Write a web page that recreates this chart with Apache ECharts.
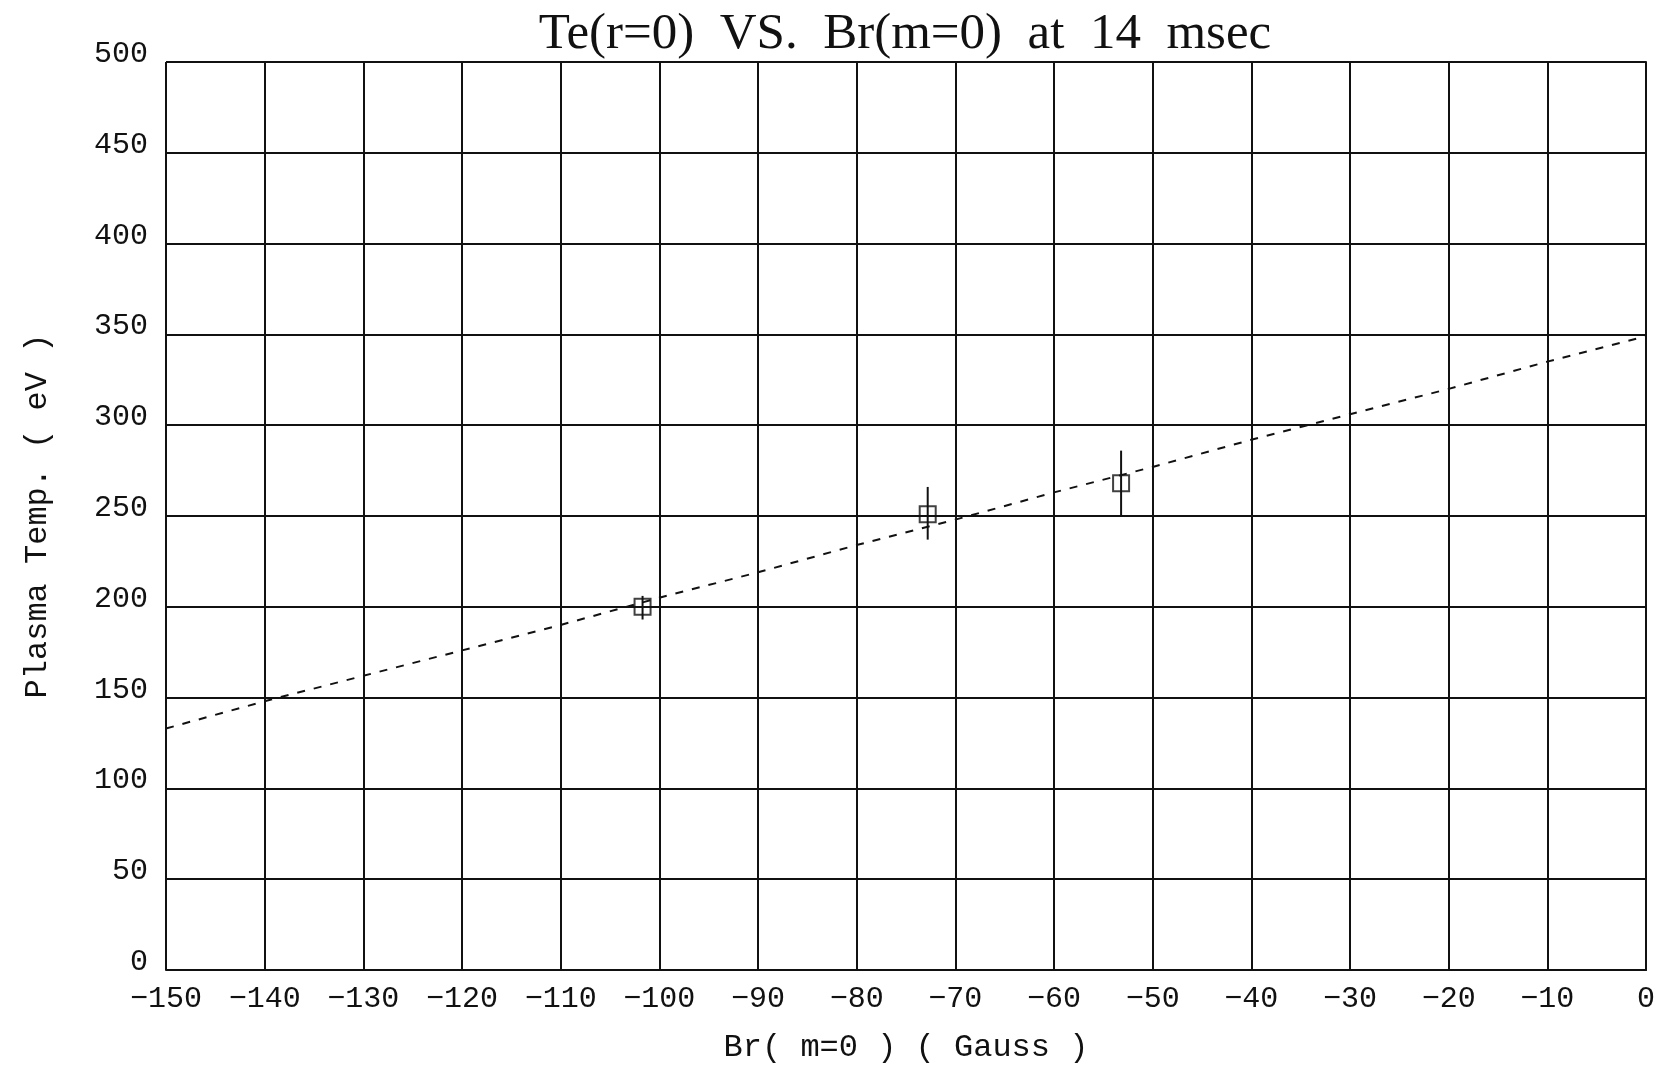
<!DOCTYPE html>
<html><head><meta charset="utf-8">
<script src="https://cdn.jsdelivr.net/npm/echarts@6/dist/echarts.min.js"></script>
<style>html,body{margin:0;padding:0;background:#fff}#c{width:1662px;height:1070px}</style>
</head><body><div id="c"></div>
<script>
// Fit line (dashed)
const fitBr = [-150,-140,-130,-120,-110,-100,-90,-80,-70,-60,-50,-40,-30,-20,-10,0];
const fitTe = [133,148,162,176,190,205,219,234,248,263,277,292,306,320,335,349];
// Measured points with error bars
const ptBr = [-101.7,-72.8,-53.2];
const ptTe = [200,251,268];
const ptErrLo = [193,237,250];
const ptErrHi = [206,266,286];

const chart = echarts.init(document.getElementById('c'));
const font = 'Liberation Mono';
const fmt = v => String(v).replace('-', '\u2212');
chart.setOption({
  backgroundColor:'#fff',
  animation:false,
  title:{text:'Te(r=0)  VS.  Br(m=0)  at  14  msec',left:900,textAlign:'center',top:4,
    textStyle:{fontFamily:'Liberation Serif',fontWeight:'normal',fontSize:51,color:'#111'}},
  grid:{left:166,right:16,top:62,bottom:100},
  xAxis:{type:'value',min:-150,max:0,interval:10,
    name:'Br( m=0 ) ( Gauss )',nameLocation:'middle',nameGap:62,
    nameTextStyle:{fontFamily:font,fontSize:32,color:'#111'},
    axisLine:{lineStyle:{color:'#111',width:2}},axisTick:{show:false},
    axisLabel:{fontFamily:font,fontSize:30,color:'#111',margin:14,formatter:fmt},
    splitLine:{lineStyle:{color:'#111',width:2}}},
  yAxis:{type:'value',min:0,max:500,interval:50,
    name:'Plasma Temp. ( eV )',nameLocation:'middle',nameGap:112,
    nameTextStyle:{fontFamily:font,fontSize:32,color:'#111'},
    axisLine:{lineStyle:{color:'#111',width:2}},axisTick:{show:false},
    axisLabel:{fontFamily:font,fontSize:30,color:'#111',margin:18,verticalAlign:'bottom',lineHeight:16},
    splitLine:{lineStyle:{color:'#111',width:2}}},
  series:[
    {type:'line',data:fitBr.map((x,i)=>[x,fitTe[i]]),symbol:'none',
     lineStyle:{color:'#111',width:2,type:[8,9]}},
    {type:'custom',data:ptBr.map((x,i)=>[x,ptErrLo[i],ptErrHi[i]]),
     renderItem:(p,api)=>{
       const a=api.coord([api.value(0),api.value(1)]);
       const b=api.coord([api.value(0),api.value(2)]);
       return {type:'line',shape:{x1:a[0],y1:a[1],x2:b[0],y2:b[1]},style:{stroke:'#111',lineWidth:2}};
     },z:3},
    {type:'scatter',data:ptBr.map((x,i)=>[x,ptTe[i]]),symbol:'rect',symbolSize:16,
     itemStyle:{color:'rgba(0,0,0,0)',borderColor:'#111',borderWidth:2},z:4}
  ]
});
</script></body></html>
